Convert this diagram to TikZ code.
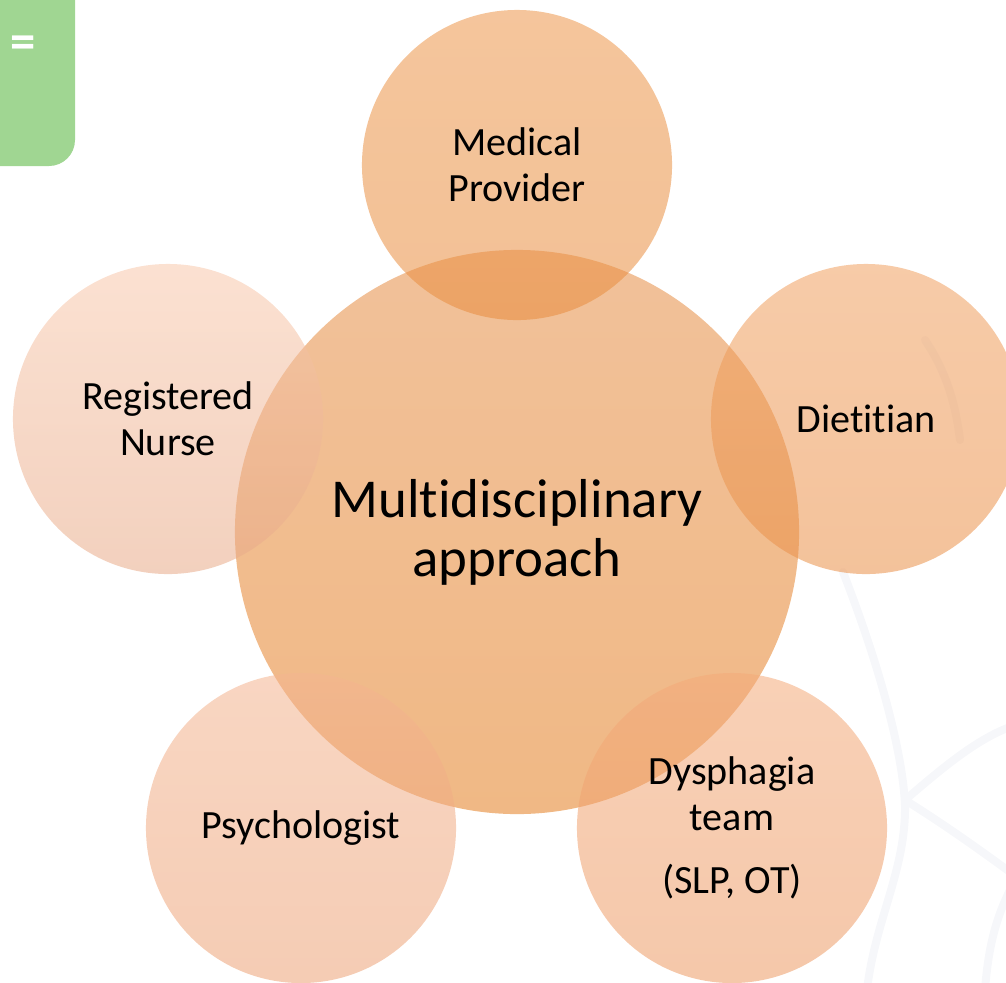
\documentclass[tikz,border=0pt]{standalone}
\usepackage{fontspec}
\setmainfont{Carlito}[Ligatures=CommonOff]
\usetikzlibrary{shapes.geometric}

\definecolor{tabgreen}{RGB}{160,214,146}
\definecolor{swirl}{RGB}{246,247,250}

\tikzset{
  disc/.style={circle, inner sep=0pt, minimum size=7.75cm, align=center,
    fill opacity=0.55, text opacity=1, text=black,
    font=\fontsize{28.5}{33}\selectfont},
  hub/.style={disc, minimum size=14.1cm, font=\fontsize{39}{42}\selectfont},
}

\begin{document}
\begin{tikzpicture}[x=0.025cm, y=-0.025cm]
  \useasboundingbox (0,0) rectangle (1006,982);
  \clip (0,0) rectangle (1006,982);

  % faint swirls in the background
  \begin{scope}[swirl, line width=0.2cm, line cap=round]
    \draw (843,572) .. controls (885,680) and (903,760) .. (905,805)
                    .. controls (906,870) and (875,920) .. (867,990);
    \draw (905,800) .. controls (940,770) and (975,740) .. (1010,727);
    \draw (905,800) .. controls (945,825) and (980,850) .. (1010,872);
    \draw (1010,890) .. controls (995,920) and (988,950) .. (985,990);
    \draw (925,340) .. controls (945,370) and (955,400) .. (960,440);
  \end{scope}

  % tab in the corner
  \fill[tabgreen, rounded corners=0.65cm] (-40,-40) rectangle (75,166);
  \node[text=white, font=\fontsize{36}{40}\selectfont\bfseries] (tab) at (23,47) {=};

  % big circle in the middle
  \node[hub, top color={rgb,255:red,230;green,142;blue,70},
        bottom color={rgb,255:red,228;green,126;blue,32}]
    (hub) at (517,532) {Multidisciplinary\\approach};

  % the five around it
  \node[disc, top color={rgb,255:red,236;green,150;blue,74},
        bottom color={rgb,255:red,232;green,140;blue,62}]
    (medical) at (517,165) {Medical\\Provider};
  \node[disc, top color={rgb,255:red,240;green,160;blue,96},
        bottom color={rgb,255:red,234;green,144;blue,72}]
    (dietitian) at (866,419) {Dietitian};
  \node[disc, top color={rgb,255:red,244;green,170;blue,122},
        bottom color={rgb,255:red,236;green,154;blue,100}]
    (dysphagia) at (732,828) {Dysphagia\\team\\[12pt](SLP, OT)};
  \node[disc, top color={rgb,255:red,244;green,180;blue,144},
        bottom color={rgb,255:red,236;green,162;blue,118}]
    (psych) at (301,828) {Psychologist};
  \node[disc, top color={rgb,255:red,248;green,200;blue,172},
        bottom color={rgb,255:red,232;green,170;blue,136}]
    (nurse) at (168,419) {Registered\\Nurse};
\end{tikzpicture}
\end{document}
